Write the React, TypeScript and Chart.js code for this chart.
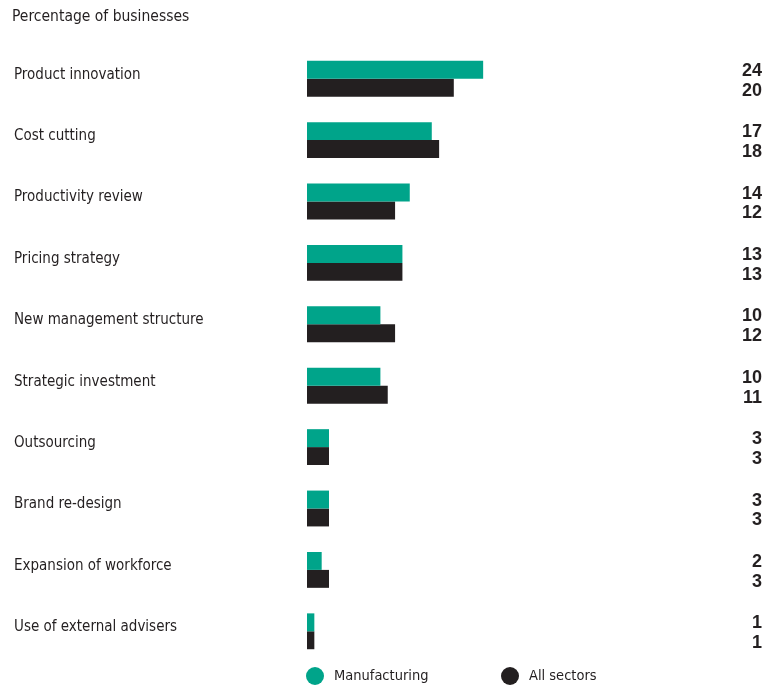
import React, { useEffect, useRef } from "react";
import { Chart, registerables } from "chart.js";

Chart.register(...registerables);

const categories = [
  "Product innovation",
  "Cost cutting",
  "Productivity review",
  "Pricing strategy",
  "New management structure",
  "Strategic investment",
  "Outsourcing",
  "Brand re-design",
  "Expansion of workforce",
  "Use of external advisers",
];
const manufacturing = [24, 17, 14, 13, 10, 10, 3, 3, 2, 1];
const allSectors = [20, 18, 12, 13, 12, 11, 3, 3, 3, 1];
const seriesNames = ["Manufacturing", "All sectors"];
const subtitle = "Percentage of businesses";

const GREEN = "#00A48A";
const BLACK = "#231F20";
const NARROW = "'Liberation Sans Narrow', 'DejaVu Sans Condensed', sans-serif";

const overlayPlugin = {
  id: "overlay",
  afterDraw(chart: any) {
    const ctx = chart.ctx;
    ctx.save();
    // subtitle
    ctx.fillStyle = BLACK;
    ctx.font = `15.5px ${NARROW}`;
    ctx.textAlign = "left";
    ctx.textBaseline = "middle";
    ctx.fillText(subtitle, 12, 17);
    // value labels
    ctx.font = "bold 18px 'Liberation Sans', Arial, sans-serif";
    ctx.textAlign = "right";
    chart.data.datasets.forEach((ds: any, di: number) => {
      const meta = chart.getDatasetMeta(di);
      meta.data.forEach((bar: any, i: number) => {
        ctx.fillText(String(ds.data[i]), chart.width - 14, bar.y + (di === 0 ? 1 : 3));
      });
    });
    // legend
    const legendX = [315, 510];
    const ly = 676;
    ctx.font = `14.5px ${NARROW}`;
    ctx.textAlign = "left";
    chart.data.datasets.forEach((ds: any, di: number) => {
      ctx.fillStyle = ds.backgroundColor;
      ctx.beginPath();
      ctx.arc(legendX[di], ly, 9, 0, Math.PI * 2);
      ctx.fill();
      ctx.fillStyle = BLACK;
      ctx.fillText(ds.label, legendX[di] + 19, ly);
    });
    ctx.restore();
  },
};

export default function App() {
  const ref = useRef<HTMLCanvasElement>(null);
  useEffect(() => {
    if (!ref.current) return;
    const chart = new Chart(ref.current, {
      type: "bar",
      data: {
        labels: categories,
        datasets: [
          { label: seriesNames[0], data: manufacturing, backgroundColor: GREEN },
          { label: seriesNames[1], data: allSectors, backgroundColor: BLACK },
        ],
      },
      options: {
        indexAxis: "y",
        responsive: false,
        animation: false,
        maintainAspectRatio: false,
        layout: { padding: { left: 14, right: 102, top: 48, bottom: 23 } },
        datasets: { bar: { categoryPercentage: 0.584, barPercentage: 1 } },
        scales: {
          x: { display: false, min: 0, max: 50 },
          y: {
            grid: { display: false },
            border: { display: false },
            ticks: {
              crossAlign: "far",
              labelOffset: -4,
              color: BLACK,
              font: { family: NARROW, size: 15 },
            },
            afterFit(scale: any) {
              scale.width = 293;
            },
          },
        },
        plugins: {
          legend: { display: false },
          tooltip: { enabled: false },
        },
      } as any,
      plugins: [overlayPlugin],
    });
    return () => chart.destroy();
  }, []);
  return (
    <div style={{ position: "fixed", left: 0, top: 0, width: 776, height: 685, background: "#fff" }}>
      <canvas ref={ref} width={776} height={685} />
    </div>
  );
}
